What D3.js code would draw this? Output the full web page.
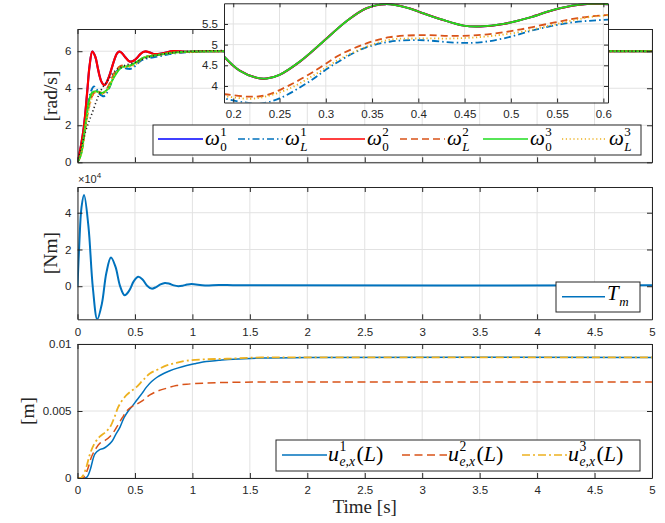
<!DOCTYPE html>
<html><head><meta charset="utf-8">
<script src="https://cdn.jsdelivr.net/npm/d3@7"></script>
<style>body{margin:0;background:#fff}</style></head>
<body><svg id="c" width="665" height="523"></svg>
<script>
// ---------------- DATA ----------------
// Top panel: angular velocities [rad/s]
const tW0 = [0,0.03,0.057,0.085,0.105,0.129,0.155,0.175,0.191,0.207,0.225,0.236,0.25,0.272,0.297,0.322,0.344,0.365,0.39,0.405,0.425,0.449,0.467,0.492,0.521,0.546,0.572,0.595,0.63,0.674,0.75,0.83,0.95,1.1,1.5,5];
const w0 = [0,0.9,2.0,3.84,5.2,5.98,5.7,5.15,4.69,4.37,4.2,4.18,4.27,4.59,5.07,5.56,5.88,5.98,5.88,5.76,5.61,5.46,5.44,5.5,5.66,5.84,5.96,5.99,5.93,5.84,5.9,6.0,5.97,6.0,6.0,6.0];
const tWL1 = [0,0.03,0.06,0.09,0.115,0.143,0.165,0.191,0.213,0.229,0.25,0.279,0.308,0.341,0.369,0.401,0.439,0.464,0.492,0.528,0.564,0.6,0.65,0.72,0.8,0.9,1.0,1.2,5];
const wL1 = [0,0.5,1.6,3.0,3.8,4.1,3.95,3.70,3.6,3.57,3.70,4.06,4.51,4.91,5.07,5.11,5.05,5.05,5.15,5.37,5.53,5.6,5.66,5.74,5.85,5.92,5.96,6.0,6.0];
const tWL2 = [0,0.03,0.06,0.09,0.12,0.15,0.17,0.191,0.218,0.236,0.261,0.29,0.315,0.344,0.369,0.403,0.439,0.475,0.511,0.546,0.572,0.6,0.65,0.72,0.8,0.9,1.0,1.2,5];
const wL2 = [0,0.45,1.5,2.7,3.5,3.8,3.85,3.80,3.74,3.78,4.02,4.39,4.75,5.03,5.18,5.23,5.21,5.25,5.37,5.53,5.64,5.71,5.76,5.82,5.9,5.95,5.98,6.0,6.0];
const tWL3 = [0,0.03,0.06,0.09,0.12,0.15,0.17,0.191,0.218,0.236,0.261,0.29,0.315,0.344,0.369,0.401,0.439,0.475,0.511,0.546,0.59,0.65,0.72,0.8,0.9,1.0,1.2,5];
const wL3 = [0,0.4,1.4,2.6,3.4,3.75,3.8,3.75,3.69,3.75,3.94,4.3,4.65,4.95,5.12,5.15,5.15,5.2,5.31,5.48,5.68,5.75,5.82,5.9,5.95,5.98,6.0,6.0];
const tW03 = [0,0.03,0.057,0.08,0.1,0.125,0.158,0.19,0.216,0.245,0.274,0.3,0.332,0.36,0.39,0.448,0.506,0.578,0.65,0.75,0.85,1.0,1.2,5];
const w03 = [0,0.4,1.48,2.5,3.3,3.75,3.84,3.76,3.75,3.85,4.03,4.4,4.75,5.0,5.15,5.2,5.39,5.66,5.75,5.85,5.93,5.98,6.0,6.0];
const tRef = [0,0.07,0.13,0.2,0.26,0.32,0.4,0.5,0.6,0.8,1.0,5];
const wRef = [0,1.66,2.7,3.84,4.39,4.9,5.2,5.4,5.65,5.9,6.0,6.0];

// Middle panel: motor torque [Nm] (x 1e4)
const tTm = [0,0.015,0.035,0.057,0.095,0.134,0.172,0.212,0.251,0.291,0.331,0.37,0.41,0.45,0.489,0.529,0.568,0.606,0.645,0.684,0.722,0.761,0.8,0.838,0.877,0.916,0.954,0.993,1.11,1.23,1.4,5];
const Tm = [0,2.2,4.3,4.96,3.27,-0.11,-1.8,-0.96,0.72,1.56,1.05,0.02,-0.49,-0.24,0.26,0.51,0.35,0.03,-0.13,-0.05,0.10,0.18,0.135,0.045,0.0,0.03,0.09,0.12,0.04,0.07,0.05,0.05];

// Bottom panel: tip displacement [m]
const tU1 = [0,0.06,0.085,0.11,0.152,0.19,0.225,0.26,0.297,0.33,0.37,0.405,0.442,0.48,0.515,0.56,0.602,0.645,0.689,0.75,0.804,0.87,0.95,1.03,1.12,1.23,1.355,1.6,2,5];
const u1 = [0,0,0.0001,0.0006,0.0018,0.0021,0.0022,0.0024,0.0027,0.0032,0.0038,0.0045,0.0050,0.0054,0.0058,0.0063,0.0068,0.0072,0.0075,0.0078,0.0080,0.0082,0.0084,0.00855,0.0087,0.00878,0.00886,0.00895,0.009,0.009];
const tU2 = [0,0.04,0.06,0.09,0.123,0.16,0.196,0.24,0.283,0.32,0.355,0.39,0.428,0.47,0.515,0.57,0.63,0.7,0.776,0.86,0.95,1.1,1.3,1.6,2,5];
const u2 = [0,0,0.0001,0.0007,0.0016,0.0022,0.0026,0.0028,0.0031,0.0035,0.0040,0.0045,0.0050,0.0053,0.0055,0.0058,0.0062,0.0065,0.0067,0.0069,0.0070,0.00708,0.00713,0.00716,0.00716,0.00716];
const tU3 = [0,0.03,0.05,0.08,0.109,0.15,0.196,0.24,0.283,0.32,0.355,0.39,0.428,0.47,0.515,0.57,0.63,0.7,0.776,0.86,0.95,1.1,1.3,1.6,2,5];
const u3 = [0,0,0.0002,0.0009,0.0018,0.0026,0.0031,0.0034,0.0038,0.0045,0.0053,0.0058,0.0062,0.0065,0.0068,0.0073,0.0078,0.0081,0.0084,0.0086,0.00875,0.00885,0.0089,0.009,0.009,0.009];

// Ticks
const xTicks = [0,0.5,1,1.5,2,2.5,3,3.5,4,4.5,5];
const yTicksW = [0,2,4,6];
const yTicksT = [0,2,4];
const yTicksU = [0,0.005,0.01];
const insetXTicks = [0.2,0.25,0.3,0.35,0.4,0.45,0.5,0.55,0.6];
const insetYTicks = [4,4.5,5,5.5];

// ---------------- DRAWING ----------------
const svg = d3.select('#c');
const serif = "'Liberation Serif','DejaVu Serif',serif";
const sans = "'Liberation Sans',Arial,sans-serif";
const axisCol = '#262626';
const gridCol = '#e2e2e2';
const C = {blue:'#0000ff', mblue:'#0072BD', red:'#ff0000', orange:'#D95319', green:'#1fdc1f', yellow:'#EDB120', ref:'#222'};
const fmt = d3.format('~g');
let clipN = 0;

function makeAxes(o){
  const x = d3.scaleLinear().domain(o.xd).range([o.l,o.r]);
  const y = d3.scaleLinear().domain(o.yd).range([o.b,o.t]);
  const g = svg.append('g');
  if(o.bg) g.append('rect').attr('x',o.l).attr('y',o.t).attr('width',o.r-o.l).attr('height',o.b-o.t).attr('fill','#fff');
  const grid = g.append('g').attr('stroke',gridCol).attr('stroke-width',1);
  o.xt.forEach(v=>grid.append('line').attr('x1',x(v)).attr('x2',x(v)).attr('y1',o.t).attr('y2',o.b));
  o.yt.forEach(v=>grid.append('line').attr('y1',y(v)).attr('y2',y(v)).attr('x1',o.l).attr('x2',o.r));
  const id = 'clip'+(clipN++);
  svg.append('clipPath').attr('id',id).append('rect').attr('x',o.l).attr('y',o.t).attr('width',o.r-o.l).attr('height',o.b-o.t);
  const lines = g.append('g').attr('clip-path',`url(#${id})`);
  function finish(){
    const style = sel=>{sel.select('.domain').attr('stroke',axisCol).attr('stroke-width',1);
      sel.selectAll('.tick line').attr('stroke',axisCol);
      sel.selectAll('text').attr('fill',axisCol).attr('font-family',sans).attr('font-size',11.5);};
    const tl = o.tl||5;
    g.append('g').attr('transform',`translate(0,${o.b})`).call(d3.axisBottom(x).tickValues(o.xt).tickSize(-tl).tickSizeOuter(0).tickPadding(o.xpad||9).tickFormat(o.xlab?fmt:'')).call(style);
    g.append('g').attr('transform',`translate(0,${o.t})`).call(d3.axisTop(x).tickValues(o.xt).tickSize(-tl).tickSizeOuter(0).tickFormat('')).call(style);
    g.append('g').attr('transform',`translate(${o.l},0)`).call(d3.axisLeft(y).tickValues(o.yt).tickSize(-tl).tickSizeOuter(0).tickPadding(6).tickFormat(fmt)).call(style);
    g.append('g').attr('transform',`translate(${o.r},0)`).call(d3.axisRight(y).tickValues(o.yt).tickSize(-tl).tickSizeOuter(0).tickFormat('')).call(style);
  }
  return {x,y,g,lines,finish};
}

function plotLine(ax, ts, vs, color, width, dash){
  const pts = ts.map((t,i)=>[t,vs[i]]);
  ax.lines.append('path').datum(pts)
    .attr('d', d3.line().x(d=>ax.x(d[0])).y(d=>ax.y(d[1])).curve(d3.curveCatmullRom.alpha(0.5)))
    .attr('fill','none').attr('stroke',color).attr('stroke-width',width)
    .attr('stroke-dasharray',dash||null).attr('stroke-linejoin','round');
}

const DASHDOT = '7,3,1.5,3', DASH = '7,4', DOT = '1.2,2.6';
const L = 77.5, R = 652;

// ---- Top panel ----
const axW = makeAxes({l:L,r:R,t:29,b:162.3,xd:[0,5],yd:[0,7.2],xt:xTicks,yt:yTicksW,xlab:false});
plotLine(axW,tW0,w0,C.blue,2);
plotLine(axW,tWL1,wL1,C.mblue,2,DASHDOT);
plotLine(axW,tW0,w0,C.red,2.2);
plotLine(axW,tWL2,wL2,C.orange,2,DASH);
plotLine(axW,tW03,w03,C.green,2);
plotLine(axW,tWL3,wL3,C.yellow,2,DOT);
plotLine(axW,tRef,wRef,C.ref,1.6,DOT);
axW.finish();

// ---- Middle panel ----
const axT = makeAxes({l:L,r:R,t:187,b:319.3,xd:[0,5],yd:[-1.8,5.4],xt:xTicks,yt:yTicksT,xlab:true,xpad:9});
plotLine(axT,tTm,Tm,C.mblue,2);
axT.finish();
const ex = svg.append('text').attr('x',78).attr('y',183).attr('font-family',sans).attr('font-size',11).attr('fill',axisCol);
ex.append('tspan').text('×10');
ex.append('tspan').attr('dy',-5).attr('font-size',8).text('4');

// ---- Bottom panel ----
const axU = makeAxes({l:L,r:R,t:344,b:478,xd:[0,5],yd:[0,0.01],xt:xTicks,yt:yTicksU,xlab:true,xpad:8});
plotLine(axU,tU1,u1,C.mblue,1.5);
plotLine(axU,tU2,u2,C.orange,1.5,'8,4.5');
plotLine(axU,tU3,u3,C.yellow,1.8,'8,3,2,3');
axU.finish();

// ---- Inset ----
const axI = makeAxes({l:224,r:608,t:3.3,b:102.5,xd:[0.19,0.605],yd:[3.6,6.0],xt:insetXTicks,yt:insetYTicks,xlab:true,xpad:7,bg:true,tl:4});
plotLine(axI,tWL1,wL1,C.mblue,1.8,DASHDOT);
plotLine(axI,tWL2,wL2,C.orange,1.8,DASH);
plotLine(axI,tWL3,wL3,C.yellow,1.8,DOT);
plotLine(axI,tW0,w0,C.blue,2);
plotLine(axI,tW0,w0,C.red,2);
plotLine(axI,tW0,w0,C.green,1.8);
axI.finish();

// ---- Axis labels ----
function yLabel(txt, cx, cy){
  svg.append('text').attr('transform',`translate(${cx},${cy}) rotate(-90)`).attr('text-anchor','middle')
    .attr('font-family',serif).attr('font-size',19.5).attr('fill',axisCol).text(txt);
}
yLabel('[rad/s]',57,96);
yLabel('[Nm]',57,253);
yLabel('[m]',34,411);
svg.append('text').attr('x',(L+R)/2).attr('y',513).attr('text-anchor','middle')
  .attr('font-family',serif).attr('font-size',19).attr('fill',axisCol).text('Time [s]');

// ---- Legends ----
function mathLabel(g, x, y, base, sup, sub, tail, size, supDy, subDy, subItalic){
  const ss = size*0.62;
  const b = g.append('text').attr('x',x).attr('y',y).attr('font-family',serif).attr('font-size',size).attr('font-style','italic').attr('fill','#000').text(base);
  const sx = x + b.node().getComputedTextLength() + 0.5;
  let w = 0;
  if(sup){ const s = g.append('text').attr('x',sx).attr('y',y+supDy).attr('font-family',serif).attr('font-size',ss).attr('fill','#000').text(sup); w = Math.max(w,s.node().getComputedTextLength()); }
  if(sub){ const s = g.append('text').attr('x',sx).attr('y',y+subDy).attr('font-family',serif).attr('font-size',ss).attr('font-style',subItalic?'italic':'normal').attr('fill','#000').text(sub); w = Math.max(w,s.node().getComputedTextLength()); }
  if(tail){ const t = g.append('text').attr('x',sx+w+1.5).attr('y',y).attr('font-family',serif).attr('font-size',size).attr('fill','#000');
    t.append('tspan').text('('); t.append('tspan').attr('font-style','italic').text('L'); t.append('tspan').text(')'); }
}
function legendBox(x,y,w,h){
  const g = svg.append('g');
  g.append('rect').attr('x',x).attr('y',y).attr('width',w).attr('height',h).attr('fill','#fff').attr('stroke',axisCol).attr('stroke-width',1);
  return g;
}
function sample(g,x1,x2,y,color,width,dash){
  g.append('line').attr('x1',x1).attr('x2',x2).attr('y1',y).attr('y2',y).attr('stroke',color).attr('stroke-width',width).attr('stroke-dasharray',dash||null);
}
// top legend
const legW = legendBox(153,125,488,30);
const wEntries = [
  {c:C.blue,d:null,sup:'1',sub:'0',x:158},
  {c:C.mblue,d:DASHDOT,sup:'1',sub:'L',x:238},
  {c:C.red,d:null,sup:'2',sub:'0',x:320},
  {c:C.orange,d:DASH,sup:'2',sub:'L',x:400},
  {c:C.green,d:null,sup:'3',sub:'0',x:483},
  {c:C.yellow,d:DOT,sup:'3',sub:'L',x:562}
];
wEntries.forEach(e=>{
  sample(legW,e.x,e.x+45,139,e.c,1.6,e.d);
  mathLabel(legW,e.x+47,144.5,'ω',e.sup,e.sub,null,21,-9,6,e.sub==='L');
});
// middle legend
const legT = legendBox(556,282,84,30);
sample(legT,562,605,296.7,C.mblue,1.6);
mathLabel(legT,607,299.5,'T',null,'m',null,21,-9,6,true);
// bottom legend
const legU = legendBox(276,440,364,31);
[{c:C.mblue,d:null,sup:'1',x:282},{c:C.orange,d:'8,4.5',sup:'2',x:402},{c:C.yellow,d:'8,3,2,3',sup:'3',x:522}].forEach(e=>{
  sample(legU,e.x,e.x+45,455,e.c,1.6,e.d);
  mathLabel(legU,e.x+46,461,'u',e.sup,'e,x',true,22,-10,5,true);
});
</script></body></html>
